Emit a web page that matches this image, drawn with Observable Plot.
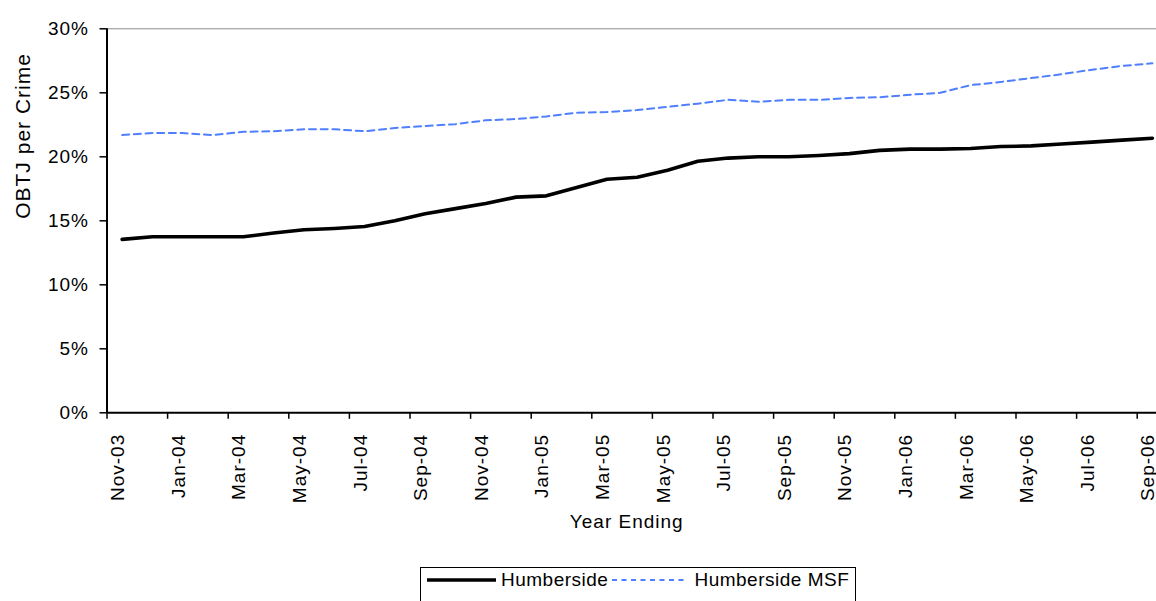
<!DOCTYPE html>
<html>
<head>
<meta charset="utf-8">
<script src="https://cdn.jsdelivr.net/npm/d3@7"></script>
<script src="https://cdn.jsdelivr.net/npm/@observablehq/plot@0.6"></script>
<style>
  html, body { margin: 0; padding: 0; background: #fff; }
  body { width: 1156px; height: 601px; overflow: hidden; position: relative; font-family: "Liberation Sans", Arial, sans-serif; }
  #chart svg { display: block; }
  #chart svg text { letter-spacing: 1px; }
  #legend {
    position: absolute; left: 420px; top: 567px; width: 436px; height: 60px;
    border: 1.5px solid #000; box-sizing: border-box; background: #fff;
    font-size: 19px; letter-spacing: 0.5px; color: #000;
  }
  #legend .row { display: flex; align-items: center; height: 24px; padding-left: 6px; }
  #legend svg { display: block; }
</style>
</head>
<body>
<div id="chart"></div>
<div id="legend"></div>
<script>
const months = ["Nov-03","Dec-03","Jan-04","Feb-04","Mar-04","Apr-04","May-04","Jun-04","Jul-04","Aug-04","Sep-04","Oct-04",
  "Nov-04","Dec-04","Jan-05","Feb-05","Mar-05","Apr-05","May-05","Jun-05","Jul-05","Aug-05","Sep-05","Oct-05",
  "Nov-05","Dec-05","Jan-06","Feb-06","Mar-06","Apr-06","May-06","Jun-06","Jul-06","Aug-06","Sep-06"];

const humberside = [13.55,13.75,13.75,13.75,13.75,14.05,14.3,14.4,14.55,15.0,15.55,15.95,
  16.35,16.85,16.95,17.6,18.25,18.4,18.95,19.65,19.9,20.0,20.0,20.1,
  20.25,20.5,20.6,20.6,20.65,20.8,20.85,21.0,21.15,21.3,21.45];

const humbersideMSF = [21.7,21.85,21.85,21.7,21.95,22.0,22.15,22.15,22.0,22.25,22.4,22.55,
  22.85,22.95,23.15,23.45,23.5,23.65,23.9,24.15,24.45,24.3,24.45,24.45,
  24.6,24.65,24.85,25.0,25.6,25.85,26.15,26.45,26.8,27.1,27.3];

const seriesNames = ["Humberside", "Humberside MSF"];
const yTicks = [0, 5, 10, 15, 20, 25, 30];
const xLabelIdx = d3.range(0, months.length, 2);
const xTickIdx = d3.range(-0.5, months.length - 1, 2);

const dataA = months.map((m, i) => ({i, month: m, v: humberside[i]}));
const dataB = months.map((m, i) => ({i, month: m, v: humbersideMSF[i]}));

const blue = "#4f7fff";

const chart = Plot.plot({
  width: 1156,
  height: 555,
  marginLeft: 106.5,
  marginRight: 0,
  marginTop: 28.3,
  marginBottom: 142.7,
  style: {fontFamily: "'Liberation Sans', Arial, sans-serif", fontSize: "19px", color: "#000", background: "#fff"},
  x: {domain: [-0.5, months.length - 0.5], range: [106.5, 1167]},
  y: {domain: [0, 30], range: [412.3, 28.3]},
  marks: [
    Plot.ruleY([30], {stroke: "#8c8c8c", strokeWidth: 1}),
    Plot.axisY({ticks: yTicks, tickFormat: d => d + "%", tickSize: 7, tickPadding: 11, strokeWidth: 1.5, label: null, fontSize: 19}),
    Plot.axisX({ticks: xTickIdx, tickFormat: () => "", tickSize: 6.5, strokeWidth: 1.5, label: null}),
    Plot.axisX({ticks: xLabelIdx, tickFormat: i => months[i], tickSize: 0, tickPadding: 21, tickRotate: -90, label: null, fontSize: 19, dx: -4}),
    Plot.ruleX([-0.5], {stroke: "#000", strokeWidth: 2}),
    Plot.ruleY([0], {stroke: "#000", strokeWidth: 2}),
    Plot.line(dataB, {x: "i", y: "v", stroke: blue, strokeWidth: 2, strokeDasharray: "7,4.7"}),
    Plot.line(dataA, {x: "i", y: "v", stroke: "#000", strokeWidth: 3.6}),
    Plot.text(["Year Ending"], {frameAnchor: "bottom", dy: 109, dx: -5, fontSize: 19, lineAnchor: "middle", fill: "#000"}),
    Plot.text(["OBTJ per Crime"], {frameAnchor: "left", rotate: -90, dx: -83.5, dy: -2, fontSize: 21, lineAnchor: "middle", fill: "#000", style: "letter-spacing:1.3px"})
  ]
});
document.getElementById("chart").appendChild(chart);

// legend
const legend = document.getElementById("legend");
const row = document.createElement("div");
row.className = "row";
function sample(w, stroke, sw, dash) {
  const s = d3.create("svg").attr("width", w).attr("height", 24);
  s.append("line").attr("x1", 0).attr("x2", w).attr("y1", 12).attr("y2", 12)
    .attr("stroke", stroke).attr("stroke-width", sw).attr("stroke-dasharray", dash || null);
  return s.node();
}
function label(t, ml, mr) {
  const sp = document.createElement("span");
  sp.textContent = t;
  sp.style.marginLeft = ml + "px";
  sp.style.marginRight = mr + "px";
  return sp;
}
row.appendChild(sample(69, "#000", 3.6));
row.appendChild(label(seriesNames[0], 5, 4));
row.appendChild(sample(76, blue, 2, "5,4.5"));
row.appendChild(label(seriesNames[1], 6, 0));
legend.appendChild(row);
</script>
</body>
</html>
